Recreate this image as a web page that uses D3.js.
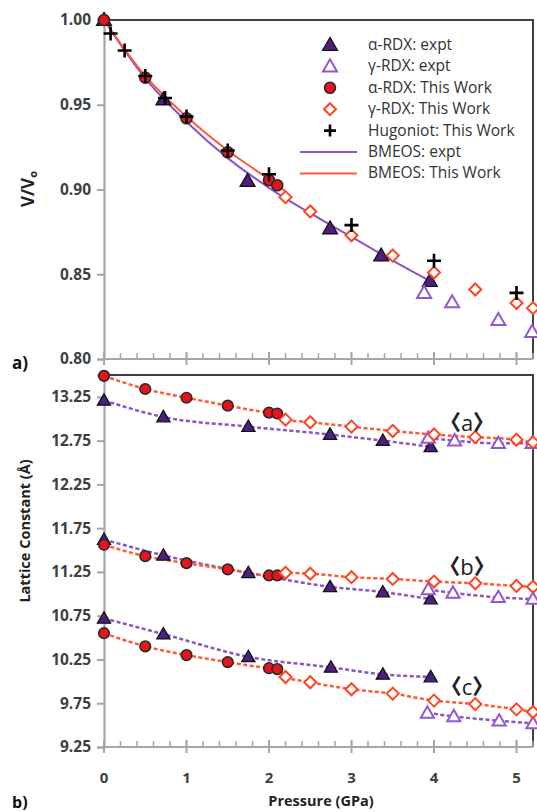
<!DOCTYPE html>
<html><head><meta charset="utf-8">
<script src="https://cdn.jsdelivr.net/npm/d3@7"></script>
<style>
body{margin:0;background:#fff;}
svg{display:block;}
text{font-family:"Open Sans",Lato,sans-serif;}
</style></head>
<body>
<script>
// ---------- DATA ----------
const xTicks = [0,1,2,3,4,5];
const topYTicks = [0.80,0.85,0.90,0.95,1.00];
const botYTicks = [9.25,9.75,10.25,10.75,11.25,11.75,12.25,12.75,13.25];

// Top panel: V/V0
const topAlphaExpt = [[0,1.0],[0.72,0.953],[1.74,0.905],[2.74,0.877],[3.36,0.861],[3.95,0.846]];
const topGammaExpt = [[3.88,0.839],[4.22,0.8335],[4.78,0.823],[5.19,0.816]];
const topAlphaWork = [[0,1.0],[0.5,0.966],[1.0,0.942],[1.5,0.922],[2.0,0.9055],[2.1,0.9025]];
const topGammaWork = [[2.2,0.8955],[2.5,0.887],[3.0,0.873],[3.5,0.861],[4.0,0.851],[4.5,0.841],[5.0,0.833],[5.2,0.830]];
const hugoniot = [[0.08,0.992],[0.25,0.982],[0.5,0.967],[0.74,0.954],[1.0,0.943],[1.5,0.923],[2.0,0.909],[3.0,0.879],[4.0,0.858],[5.0,0.839]];
const bmeosExpt = [[0,1.0],[0.5,0.9655],[1.0,0.940],[1.5,0.9185],[2.0,0.901],[2.5,0.886],[3.0,0.872],[3.5,0.858],[3.95,0.846]];
const bmeosWork = [[0,1.0],[0.5,0.967],[1.0,0.943],[1.5,0.923],[2.0,0.906],[2.2,0.899]];

// Bottom panel: lattice constants a, b, c
const aAlphaExpt = [[0,13.21],[0.72,13.02],[1.75,12.91],[2.74,12.82],[3.38,12.75],[3.96,12.68]];
const aGammaExpt = [[3.93,12.78],[4.25,12.75],[4.78,12.72],[5.19,12.72]];
const aAlphaWork = [[0,13.49],[0.5,13.34],[1.0,13.24],[1.5,13.15],[2.0,13.07],[2.1,13.06]];
const aGammaWork = [[2.2,12.99],[2.5,12.96],[3.0,12.91],[3.5,12.86],[4.0,12.82],[4.5,12.79],[5.0,12.76],[5.2,12.73]];

const bAlphaExpt = [[0,11.62],[0.72,11.44],[1.75,11.24],[2.74,11.08],[3.38,11.02],[3.96,10.94]];
const bGammaExpt = [[3.93,11.05],[4.23,11.01],[4.78,10.96],[5.2,10.94]];
const bAlphaWork = [[0,11.56],[0.5,11.43],[1.0,11.35],[1.5,11.28],[2.0,11.21],[2.1,11.21]];
const bGammaWork = [[2.2,11.24],[2.5,11.23],[3.0,11.19],[3.5,11.17],[4.0,11.14],[4.5,11.12],[5.0,11.09],[5.2,11.08]];

const cAlphaExpt = [[0,10.72],[0.72,10.54],[1.75,10.28],[2.75,10.16],[3.38,10.08],[3.96,10.05]];
const cGammaExpt = [[3.92,9.64],[4.24,9.60],[4.79,9.55],[5.2,9.52]];
const cAlphaWork = [[0,10.55],[0.5,10.40],[1.0,10.30],[1.5,10.22],[2.0,10.15],[2.1,10.14]];
const cGammaWork = [[2.2,10.05],[2.5,9.99],[3.0,9.91],[3.5,9.86],[4.0,9.78],[4.5,9.74],[5.0,9.68],[5.2,9.65]];

const legendLabels = ["α-RDX: expt","γ-RDX: expt","α-RDX: This Work","γ-RDX: This Work","Hugoniot: This Work","BMEOS: expt","BMEOS: This Work"];
const paramLetters = ["a","b","c"];
const paramLabelPos = [[4.4,12.86],[4.4,11.21],[4.4,9.84]];

// ---------- STYLE ----------
const W=537,H=812;
const C = {purpleFill:"#4e1f80", purpleLine:"#8b55c4", purpleOpen:"#9656d0",
  red:"#e8141c", redLine:"#ff5a36", diamond:"#ff4422", axis:"#a6a6a6", frame:"#404040", text:"#404040"};

const svg = d3.select("body").append("svg").attr("width",W).attr("height",H);

const x = d3.scaleLinear().domain([0,5.2]).range([104,533]);
const yTop = d3.scaleLinear().domain([0.80,1.00]).range([359,20]);
const yBot = d3.scaleLinear().domain([9.25,13.5]).range([747,375]);

function drawFrame(y, yTicks, fmt, showXLabels){
  const [y0,y1] = y.range(); // bottom, top
  const g = svg.append("g");
  g.append("path").attr("d",`M${x.range()[0]},${y1}H${x.range()[1]}V${y0}`)
    .attr("fill","none").attr("stroke",C.frame).attr("stroke-width",2);
  const ya = d3.axisLeft(y).tickValues(yTicks).tickFormat(fmt).tickSize(7).tickPadding(6);
  const gy = g.append("g").attr("transform",`translate(${x.range()[0]},0)`).call(ya);
  gy.select(".domain").attr("stroke",C.axis).attr("stroke-width",2.2);
  gy.selectAll(".tick line").attr("stroke",C.axis).attr("stroke-width",2);
  gy.selectAll("text").attr("fill",C.text).attr("font-size",15.5).attr("font-weight","bold")
    .attr("font-family","'Open Sans', sans-serif");
  const minor = d3.range(0,5.21,0.2);
  const gx = g.append("g").attr("transform",`translate(0,${y0})`);
  gx.append("line").attr("x1",x.range()[0]).attr("x2",x.range()[1]).attr("stroke",C.axis).attr("stroke-width",2.2);
  gx.selectAll(".mn").data(minor).join("line").attr("class","mn")
    .attr("x1",d=>x(d)).attr("x2",d=>x(d)).attr("y1",-6).attr("y2",0)
    .attr("stroke",C.axis).attr("stroke-width",1.5);
  gx.selectAll(".mj").data(xTicks).join("line").attr("class","mj")
    .attr("x1",d=>x(d)).attr("x2",d=>x(d)).attr("y1",-7).attr("y2",6)
    .attr("stroke",C.axis).attr("stroke-width",2);
  if(showXLabels){
    gx.selectAll(".xl").data(xTicks).join("text").attr("class","xl")
      .attr("x",d=>x(d)).attr("y",36).attr("text-anchor","middle")
      .attr("fill",C.text).attr("font-size",15).attr("font-weight","bold").text(d=>d);
  }
}

drawFrame(yTop, topYTicks, d3.format(".2f"), false);
drawFrame(yBot, botYTicks, d3.format(".2f"), true);

// ---------- marker helpers ----------
const triSym = d3.symbol().type(d3.symbolTriangle);
function triangles(data, y, size, filled){
  svg.append("g").selectAll("path").data(data).join("path")
    .attr("d", triSym.size(size)())
    .attr("transform",d=>`translate(${x(d[0])},${y(d[1])+1})`)
    .attr("fill", filled?C.purpleFill:"#fff")
    .attr("stroke", filled?"#111":C.purpleOpen)
    .attr("stroke-width", filled?1.3:2);
}
function circles(data, y, r){
  svg.append("g").selectAll("circle").data(data).join("circle")
    .attr("cx",d=>x(d[0])).attr("cy",d=>y(d[1])).attr("r",r)
    .attr("fill",C.red).attr("stroke","#2a2a2a").attr("stroke-width",1.6);
}
function diamonds(data, y, h){
  svg.append("g").selectAll("path").data(data).join("path")
    .attr("d",`M0,${-h}L${h},0L0,${h}L${-h},0Z`)
    .attr("transform",d=>`translate(${x(d[0])},${y(d[1])})`)
    .attr("fill","#fff").attr("stroke",C.diamond).attr("stroke-width",2);
}
function crosses(data, y, h){
  svg.append("g").selectAll("path").data(data).join("path")
    .attr("d",`M${-h},0H${h}M0,${-h}V${h}`)
    .attr("transform",d=>`translate(${x(d[0])},${y(d[1])})`)
    .attr("fill","none").attr("stroke","#000").attr("stroke-width",2.6);
}
function line(data, y, color, dashed, width){
  const ln = d3.line().x(d=>x(d[0])).y(d=>y(d[1])).curve(d3.curveMonotoneX);
  svg.append("path").datum(data).attr("d",ln).attr("fill","none")
    .attr("stroke",color).attr("stroke-width",width)
    .attr("stroke-dasharray",dashed?"4,2.5":null);
}

// ---------- top panel ----------
line(bmeosExpt, yTop, C.purpleLine, false, 2);
line(bmeosWork, yTop, C.redLine, false, 2);
triangles(topAlphaExpt, yTop, 95, true);
triangles(topGammaExpt, yTop, 85, false);
circles(topAlphaWork, yTop, 5.5);
diamonds(topGammaWork, yTop, 6);
crosses(hugoniot, yTop, 7);

// ---------- bottom panel ----------
const groups = [
  [aAlphaExpt,aGammaExpt,aAlphaWork,aGammaWork],
  [bAlphaExpt,bGammaExpt,bAlphaWork,bGammaWork],
  [cAlphaExpt,cGammaExpt,cAlphaWork,cGammaWork]];
groups.forEach(([ae,ge,aw,gw])=>{
  line(ae, yBot, C.purpleLine, true, 2.5);
  line(ge, yBot, C.purpleLine, true, 2.5);
  line(aw.concat(gw), yBot, C.redLine, true, 2.5);
});
groups.forEach(([ae,ge,aw,gw])=>{
  triangles(ae, yBot, 75, true);
  triangles(ge, yBot, 75, false);
  circles(aw, yBot, 5.3);
  diamonds(gw, yBot, 6);
});
paramLetters.forEach((t,i)=>{
  const tx = svg.append("text").attr("x",x(paramLabelPos[i][0])).attr("y",yBot(paramLabelPos[i][1]))
    .attr("text-anchor","middle").attr("fill","#222");
  tx.append("tspan").attr("font-size",21).attr("font-weight","900")
    .attr("font-family","'Noto Sans CJK JP', sans-serif").attr("dy",-1).text("〈");
  tx.append("tspan").attr("font-size",22).attr("font-family","'Open Sans', sans-serif").attr("dy",1).attr("dx",0).text(t);
  tx.append("tspan").attr("font-size",21).attr("font-weight","900")
    .attr("font-family","'Noto Sans CJK JP', sans-serif").attr("dy",-1).attr("dx",0).text("〉");
});

// ---------- legend ----------
const lg = svg.append("g");
const rowY = d3.range(7).map(i=>45+i*21.4);
const symX = 330, txtX = 368;
lg.append("path").attr("d",triSym.size(95)()).attr("transform",`translate(${symX},${rowY[0]+1})`)
  .attr("fill",C.purpleFill).attr("stroke","#111").attr("stroke-width",1.3);
lg.append("path").attr("d",triSym.size(85)()).attr("transform",`translate(${symX},${rowY[1]+1})`)
  .attr("fill","#fff").attr("stroke",C.purpleOpen).attr("stroke-width",2);
lg.append("circle").attr("cx",symX).attr("cy",rowY[2]).attr("r",5.5)
  .attr("fill",C.red).attr("stroke","#2a2a2a").attr("stroke-width",1.6);
lg.append("path").attr("d","M0,-6L6,0L0,6L-6,0Z").attr("transform",`translate(${symX},${rowY[3]})`)
  .attr("fill","#fff").attr("stroke",C.diamond).attr("stroke-width",2);
lg.append("path").attr("d","M-6,0H6M0,-6V6").attr("transform",`translate(${symX},${rowY[4]})`)
  .attr("stroke","#000").attr("stroke-width",2.6);
lg.append("line").attr("x1",300).attr("x2",357).attr("y1",rowY[5]).attr("y2",rowY[5])
  .attr("stroke",C.purpleLine).attr("stroke-width",2);
lg.append("line").attr("x1",300).attr("x2",357).attr("y1",rowY[6]).attr("y2",rowY[6])
  .attr("stroke",C.redLine).attr("stroke-width",2);
lg.selectAll("text").data(legendLabels).join("text")
  .attr("x",txtX).attr("y",(d,i)=>rowY[i]+5).attr("font-size",15.5).attr("fill","#333").text(d=>d);

// ---------- titles ----------
svg.append("text").attr("transform","translate(34,189) rotate(-90)").attr("text-anchor","middle")
  .attr("font-size",17).attr("font-weight","bold").attr("fill","#222")
  .html('V/V<tspan font-size="11" dy="3">o</tspan>');
svg.append("text").attr("transform","translate(30,531) rotate(-90)").attr("text-anchor","middle")
  .attr("font-size",14.5).attr("font-weight","bold").attr("fill","#222").text("Lattice Constant (Å)");
svg.append("text").attr("x",321).attr("y",806).attr("text-anchor","middle")
  .attr("font-size",14.5).attr("font-weight","bold").attr("fill","#222").text("Pressure (GPa)");
svg.append("text").attr("x",12).attr("y",369).attr("font-size",17).attr("font-weight","bold").attr("fill","#111").text("a)");
svg.append("text").attr("x",12).attr("y",808).attr("font-size",16).attr("font-weight","bold").attr("fill","#111").text("b)");
</script>
</body></html>
